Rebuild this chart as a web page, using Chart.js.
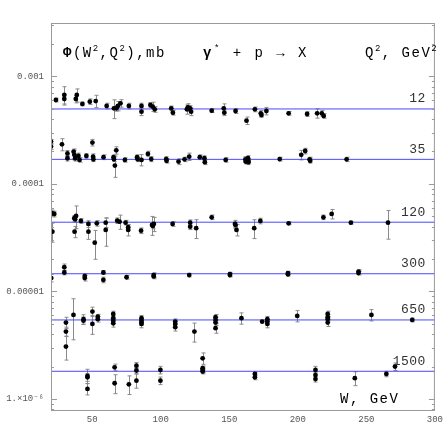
<!DOCTYPE html>
<html>
<head>
<meta charset="utf-8">
<script src="https://cdn.jsdelivr.net/npm/chart.js@4.4.1/dist/chart.umd.min.js"></script>
<style>
  html, body { margin: 0; padding: 0; background: #fff; }
  #wrap { width: 447px; height: 447px; }
</style>
</head>
<body>
<div id="wrap"><canvas id="chart" width="447" height="447"></canvas></div>
<script>
// W in GeV, Phi in mb, err = +-error in mb
const w12 = [23.6, 29.7, 29.7, 38.1, 38.8, 42.9, 48.3, 52.6, 60.6, 65.9, 67.6, 68.8, 70.7, 76.8, 86.0, 86.0, 92.5, 94.2, 95.7, 107.7, 108.9, 119.1, 119.8, 121.5, 122.2, 137.2, 146.0, 146.4, 154.6, 162.6, 168.7, 173.0, 173.5, 177.1, 193.3, 206.8, 214.1, 217.5, 218.9];
const phi12 = [6.02e-4, 6.15e-4, 6.70e-4, 6.15e-4, 6.70e-4, 5.53e-4, 5.81e-4, 5.89e-4, 5.30e-4, 5.04e-4, 5.04e-4, 5.30e-4, 5.61e-4, 5.30e-4, 5.30e-4, 4.69e-4, 5.41e-4, 5.22e-4, 4.93e-4, 5.04e-4, 4.59e-4, 4.93e-4, 5.15e-4, 5.04e-4, 4.69e-4, 4.79e-4, 5.04e-4, 4.59e-4, 4.76e-4, 3.87e-4, 4.93e-4, 4.53e-4, 4.37e-4, 4.76e-4, 4.53e-4, 4.46e-4, 4.53e-4, 4.53e-4, 4.28e-4];
const err12 = [2.4e-5, 6.2e-5, 1.3e-4, 4.9e-5, 9.4e-5, 2.2e-5, 3.5e-5, 7.7e-5, 3.2e-5, 1.0e-4, 3.0e-5, 5.3e-5, 4.5e-5, 3.2e-5, 3.2e-5, 3.8e-5, 2.7e-5, 5.2e-5, 3.0e-5, 2.5e-5, 2.3e-5, 4.9e-5, 4.1e-5, 3.0e-5, 3.8e-5, 1.9e-5, 5.0e-5, 2.8e-5, 2.4e-5, 3.1e-5, 2.5e-5, 2.7e-5, 2.2e-5, 3.8e-5, 1.8e-5, 2.2e-5, 4.5e-5, 2.7e-5, 2.1e-5];

const w35 = [20.0, 20.0, 28.0, 32.0, 32.0, 36.5, 37.0, 37.6, 40.0, 40.8, 45.8, 50.2, 50.7, 50.9, 58.3, 65.6, 65.9, 66.6, 67.6, 73.9, 82.8, 83.2, 86.0, 90.7, 93.1, 104.0, 104.3, 113.0, 117.4, 120.8, 128.5, 131.9, 132.2, 147.4, 161.8, 162.0, 163.7, 163.9, 164.0, 186.8, 202.5, 205.4, 208.6, 209.0, 235.6];
const phi35 = [2.47e-4, 2.22e-4, 2.33e-4, 1.92e-4, 1.73e-4, 1.99e-4, 1.86e-4, 1.73e-4, 1.82e-4, 1.67e-4, 1.82e-4, 2.42e-4, 1.79e-4, 1.69e-4, 1.77e-4, 1.77e-4, 1.69e-4, 1.48e-4, 2.05e-4, 1.67e-4, 1.77e-4, 1.69e-4, 1.67e-4, 1.90e-4, 1.70e-4, 1.70e-4, 1.64e-4, 1.61e-4, 1.69e-4, 1.79e-4, 1.77e-4, 1.73e-4, 1.59e-4, 1.67e-4, 1.69e-4, 1.61e-4, 1.73e-4, 1.64e-4, 1.59e-4, 1.70e-4, 1.86e-4, 2.02e-4, 1.69e-4, 1.64e-4, 1.69e-4];
const err35 = [1.2e-5, 1.3e-5, 3.0e-5, 1.2e-5, 1.0e-5, 1.2e-5, 1.9e-5, 1.0e-5, 1.1e-5, 8e-6, 9e-6, 1.7e-5, 1.1e-5, 8e-6, 9e-6, 9e-6, 8e-6, 3.3e-5, 1.6e-5, 8e-6, 9e-6, 8e-6, 2.0e-5, 1.1e-5, 9e-6, 9e-6, 8e-6, 1.0e-5, 8e-6, 1.4e-5, 9e-6, 9e-6, 8e-6, 8e-6, 1.0e-5, 8e-6, 1.0e-5, 8e-6, 8e-6, 7e-6, 1.9e-5, 1.2e-5, 8e-6, 8e-6, 8e-6];

const w120 = [20.7, 21.0, 22.4, 37.0, 37.2, 37.6, 38.3, 41.8, 47.3, 47.3, 51.9, 53.4, 59.9, 59.9, 68.3, 70.0, 74.4, 76.3, 76.3, 85.7, 93.7, 94.2, 95.0, 108.7, 121.5, 121.5, 125.9, 137.2, 154.2, 154.5, 155.3, 168.2, 172.7, 193.3, 218.7, 224.7, 238.7, 265.8];
const phi120 = [5.33e-5, 3.59e-5, 5.25e-5, 4.79e-5, 3.59e-5, 4.69e-5, 5.03e-5, 4.52e-5, 4.24e-5, 3.59e-5, 2.84e-5, 4.30e-5, 4.36e-5, 3.73e-5, 4.55e-5, 4.45e-5, 4.36e-5, 3.95e-5, 3.73e-5, 3.67e-5, 4.15e-5, 4.06e-5, 4.24e-5, 4.24e-5, 4.36e-5, 4.00e-5, 3.87e-5, 4.89e-5, 4.24e-5, 4.15e-5, 3.73e-5, 3.87e-5, 4.52e-5, 4.30e-5, 4.89e-5, 5.25e-5, 4.36e-5, 4.36e-5];
const err120 = [3.7e-6, 7.2e-6, 3.2e-6, 2.9e-6, 4.3e-6, 2.8e-6, 1.2e-5, 2.3e-6, 3.0e-6, 5.4e-6, 8.5e-6, 2.6e-6, 4.4e-6, 1.1e-5, 2.7e-6, 6.7e-6, 2.2e-6, 2.4e-6, 4.5e-6, 2.2e-6, 8.3e-6, 2.4e-6, 6.4e-6, 2.1e-6, 2.6e-6, 2.4e-6, 7.7e-6, 2.4e-6, 3.4e-6, 2.5e-6, 4.5e-6, 7.7e-6, 2.7e-6, 1.3e-6, 2.4e-6, 5.3e-6, 1.3e-6, 1.3e-5];

const w300 = [20.2, 29.7, 29.7, 44.6, 44.6, 58.2, 58.2, 75.1, 94.9, 94.9, 120.8, 150.5, 150.5, 192.8, 192.8, 244.3, 244.3];
const phi300 = [1.33e-5, 1.68e-5, 1.50e-5, 1.39e-5, 1.33e-5, 1.50e-5, 1.28e-5, 1.355e-5, 1.42e-5, 1.38e-5, 1.42e-5, 1.45e-5, 1.42e-5, 1.48e-5, 1.445e-5, 1.53e-5, 1.48e-5];
const err300 = [1.06e-6, 1.18e-6, 7.5e-7, 7.0e-7, 8.0e-7, 6.0e-7, 7.7e-7, 5.4e-7, 7.1e-7, 6.9e-7, 5.7e-7, 5.8e-7, 5.7e-7, 5.9e-7, 5.8e-7, 6.1e-7, 5.9e-7];

const w650 = [30.9, 30.9, 30.9, 36.4, 43.7, 43.7, 50.2, 50.2, 54.1, 54.1, 65.4, 65.4, 65.4, 65.4, 86.0, 86.0, 86.0, 86.0, 110.6, 110.6, 110.6, 124.6, 140.0, 140.0, 140.0, 140.0, 158.9, 174.0, 177.8, 177.8, 177.8, 199.6, 221.8, 221.8, 221.8, 221.8, 253.7, 283.5];
const phi650 = [5.13e-6, 4.23e-6, 3.07e-6, 6.05e-6, 5.52e-6, 5.35e-6, 6.49e-6, 4.99e-6, 5.83e-6, 5.52e-6, 6.18e-6, 5.64e-6, 5.35e-6, 5.06e-6, 5.64e-6, 5.35e-6, 5.13e-6, 4.99e-6, 5.24e-6, 4.99e-6, 4.65e-6, 4.23e-6, 5.76e-6, 5.43e-6, 5.13e-6, 4.55e-6, 5.64e-6, 5.24e-6, 5.52e-6, 5.24e-6, 4.99e-6, 5.92e-6, 6.18e-6, 5.76e-6, 5.52e-6, 5.13e-6, 6.05e-6, 5.43e-6];
const err650 = [6.2e-7, 4.2e-7, 7.7e-7, 2.5e-6, 5.5e-7, 4.3e-7, 6.5e-7, 1.0e-6, 2.9e-7, 3.3e-7, 3.7e-7, 3.4e-7, 3.2e-7, 4.0e-7, 3.4e-7, 3.2e-7, 3.1e-7, 4.0e-7, 3.1e-7, 3.0e-7, 3.7e-7, 8.5e-7, 3.5e-7, 3.3e-7, 3.1e-7, 4.6e-7, 6.8e-7, 1.6e-7, 3.3e-7, 3.1e-7, 4.0e-7, 7.1e-7, 3.7e-7, 3.5e-7, 3.3e-7, 4.1e-7, 7.3e-7, 2.2e-7];

const w1500 = [46.6, 46.6, 46.6, 66.4, 66.4, 76.8, 82.3, 82.3, 82.3, 99.8, 99.8, 130.6, 130.6, 130.6, 130.6, 168.7, 168.7, 212.9, 212.9, 212.9, 241.6, 264.6, 270.9];
const phi1500 = [1.64e-6, 1.59e-6, 1.24e-6, 1.97e-6, 1.40e-6, 1.37e-6, 2.04e-6, 1.84e-6, 1.48e-6, 1.86e-6, 1.48e-6, 2.39e-6, 1.93e-6, 1.86e-6, 1.80e-6, 1.71e-6, 1.59e-6, 1.86e-6, 1.67e-6, 1.53e-6, 1.56e-6, 1.71e-6, 2.00e-6];
const err1500 = [2.5e-7, 1.3e-7, 1.5e-7, 1.4e-7, 2.8e-7, 2.7e-7, 1.4e-7, 1.1e-7, 2.2e-7, 1.5e-7, 1.2e-7, 2.9e-7, 9.7e-8, 9.3e-8, 9.0e-8, 6.8e-8, 8.0e-8, 1.5e-7, 1.0e-7, 9.2e-8, 2.3e-7, 1.0e-7, 1.6e-7];

// fitted levels, one per Q^2 bin
const q2Labels = ['12', '35', '120', '300', '650', '1500'];
const levels = [4.97e-4, 1.69e-4, 4.40e-5, 1.46e-5, 5.43e-6, 1.81e-6];

const xTicks = [50, 100, 150, 200, 250, 300];
const yTicks = [1e-3, 1e-4, 1e-5, 1e-6];
const yTickLabels = ['0.001', '0.0001', '0.00001', '1.\u00d710\u207b\u2076'];

const series = [
  [w12, phi12, err12], [w35, phi35, err35], [w120, phi120, err120],
  [w300, phi300, err300], [w650, phi650, err650], [w1500, phi1500, err1500]
];

const MONO = '"Liberation Mono", "DejaVu Sans Mono", monospace';
const LINE_BLUE = 'rgb(72,72,255)';

const datasets = [];
series.forEach(function(s) {
  datasets.push({
    type: 'scatter',
    data: s[0].map(function(w, i) { return { x: w, y: s[1][i], err: s[2][i] }; }),
    backgroundColor: '#000',
    borderColor: '#000',
    borderWidth: 0,
    pointRadius: 2.4,
    pointHoverRadius: 2.4,
    order: 0,
    isPoints: true
  });
});
levels.forEach(function(lv) {
  datasets.push({
    type: 'line',
    data: [{ x: 20, y: lv }, { x: 300, y: lv }],
    borderColor: LINE_BLUE,
    borderWidth: 1,
    pointRadius: 0,
    fill: false,
    order: 1
  });
});

const errorBars = {
  id: 'errorBars',
  beforeDatasetsDraw: function(chart) {
    const ctx = chart.ctx, y = chart.scales.y, a = chart.chartArea;
    ctx.save();
    ctx.beginPath();
    ctx.rect(a.left, a.top, a.right - a.left, a.bottom - a.top);
    ctx.clip();
    ctx.strokeStyle = '#8a8a8a';
    ctx.lineWidth = 1;
    chart.data.datasets.forEach(function(ds, di) {
      if (!ds.isPoints) return;
      const meta = chart.getDatasetMeta(di);
      meta.data.forEach(function(pt, i) {
        const d = ds.data[i];
        const px = Math.round(pt.x) + 0.5;
        const top = y.getPixelForValue(d.y + d.err);
        const bot = y.getPixelForValue(d.y - d.err);
        ctx.beginPath();
        ctx.moveTo(px, top); ctx.lineTo(px, bot);
        ctx.moveTo(px - 2, top); ctx.lineTo(px + 2, top);
        ctx.moveTo(px - 2, bot); ctx.lineTo(px + 2, bot);
        ctx.stroke();
      });
    });
    ctx.restore();
  }
};

function drawRich(ctx, x, y, parts, size) {
  parts.forEach(function(p) {
    const fs = p.sup ? Math.round(size * 0.62) : size;
    ctx.font = (p.bold ? 'bold ' : '') + fs + 'px ' + MONO;
    ctx.fillText(p.t, x, p.sup ? y - size * 0.42 : y);
    x += ctx.measureText(p.t).width;
  });
}

const frameAndText = {
  id: 'frameAndText',
  afterDraw: function(chart) {
    const ctx = chart.ctx, a = chart.chartArea, y = chart.scales.y;
    ctx.save();
    // frame
    ctx.strokeStyle = '#9a9a9a';
    ctx.lineWidth = 1;
    ctx.strokeRect(a.left + 0.5, a.top + 0.5, a.right - a.left - 1, a.bottom - a.top);
    // log ticks, inside, on both sides
    ctx.beginPath();
    for (let e = -7; e <= -2; e++) {
      for (let m = 1; m <= 9; m++) {
        const v = m * Math.pow(10, e);
        if (v < y.min || v > y.max) continue;
        const py = Math.round(y.getPixelForValue(v)) + 0.5;
        const len = m === 1 ? 6 : 3;
        ctx.moveTo(a.left, py); ctx.lineTo(a.left + len, py);
        ctx.moveTo(a.right, py); ctx.lineTo(a.right - len, py);
      }
    }
    ctx.stroke();

    ctx.fillStyle = '#000';
    ctx.textBaseline = 'alphabetic';
    ctx.textAlign = 'left';
    ctx.letterSpacing = '1.5px';
    drawRich(ctx, a.left + 12, a.top + 34, [
      { t: '\u03a6', bold: true }, { t: '(W' }, { t: '2', sup: true }, { t: ',Q' },
      { t: '2', sup: true }, { t: '),mb' }
    ], 14);
    ctx.letterSpacing = '2.5px';
    drawRich(ctx, a.left + 152, a.top + 34, [
      { t: '\u03b3', bold: true }, { t: '*', sup: true }, { t: ' + p \u2192 X' }
    ], 14);
    ctx.letterSpacing = '1.5px';
    drawRich(ctx, a.left + 314, a.top + 34, [
      { t: 'Q' }, { t: '2', sup: true }, { t: ', GeV' }, { t: '2', sup: true }
    ], 14);
    drawRich(ctx, a.left + 289, a.bottom - 7, [{ t: 'W, GeV' }], 14);

    // Q^2 labels above each level line
    ctx.letterSpacing = '0.5px';
    ctx.font = '13px ' + MONO;
    ctx.fillStyle = '#333';
    ctx.textAlign = 'right';
    ctx.textBaseline = 'middle';
    levels.forEach(function(lv, i) {
      ctx.fillText(q2Labels[i], a.right - 9, y.getPixelForValue(lv) - 10);
    });
    ctx.restore();
  }
};

new Chart(document.getElementById('chart'), {
  data: { datasets: datasets },
  options: {
    responsive: false,
    animation: false,
    layout: { padding: { top: 23, right: 10, left: 0, bottom: 0 } },
    plugins: { legend: { display: false }, tooltip: { enabled: false } },
    scales: {
      x: {
        type: 'linear',
        min: 20,
        max: 300,
        afterBuildTicks: function(s) { s.ticks = xTicks.map(function(v) { return { value: v }; }); },
        afterFit: function(s) { s.height = 37; },
        grid: { display: false, drawTicks: false },
        border: { display: false },
        ticks: {
          color: '#555',
          padding: 4,
          maxRotation: 0,
          font: { family: MONO, size: 9 }
        }
      },
      y: {
        type: 'logarithmic',
        min: 7.9e-7,
        max: 3.13e-3,
        afterBuildTicks: function(s) { s.ticks = yTicks.map(function(v) { return { value: v }; }); },
        afterFit: function(s) { s.width = 51; },
        grid: { display: false, drawTicks: false },
        border: { display: false },
        ticks: {
          color: '#555',
          padding: 7,
          autoSkip: false,
          font: { family: MONO, size: 9 },
          callback: function(v) {
            const i = yTicks.indexOf(v);
            return i >= 0 ? yTickLabels[i] : '';
          }
        }
      }
    }
  },
  plugins: [errorBars, frameAndText]
});
</script>
</body>
</html>
